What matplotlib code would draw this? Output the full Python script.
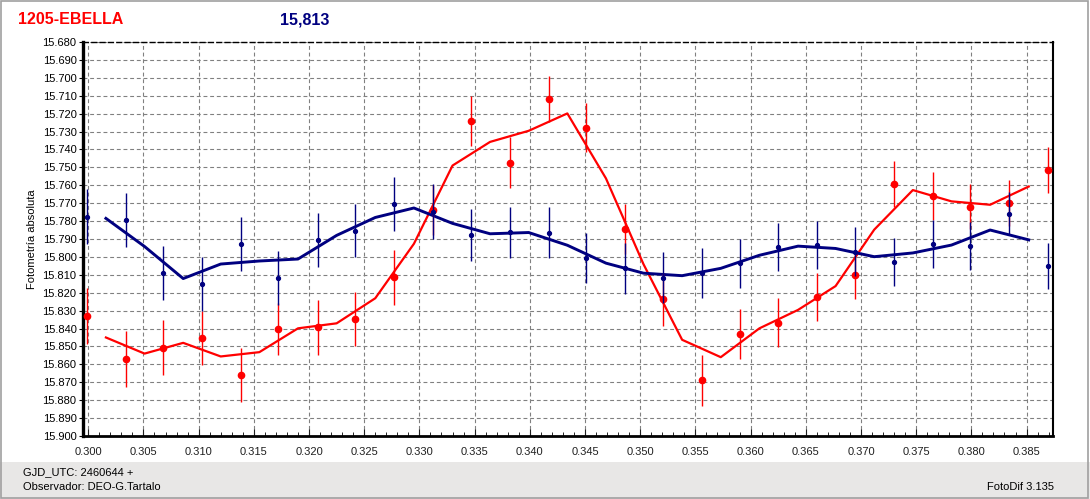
import matplotlib
matplotlib.use("Agg")
import matplotlib.pyplot as plt
from matplotlib.patches import Rectangle
from matplotlib.ticker import MultipleLocator, FormatStrFormatter

plt.rcParams["font.family"] = ["Liberation Sans", "DejaVu Sans"]

# phase (fraction of day after GJD 2460644)
phase = [0.2999, 0.3034, 0.3068, 0.3103, 0.3138, 0.3172, 0.3208, 0.3242,
         0.3277, 0.3312, 0.3347, 0.3382, 0.3417, 0.3451, 0.3486, 0.3521,
         0.3556, 0.3590, 0.3625, 0.3660, 0.3695, 0.3730, 0.3765, 0.3799,
         0.3834, 0.3869]

# variable star (red) magnitudes and errors
mag_var = [15.8329, 15.8571, 15.8508, 15.8452, 15.8660, 15.8403, 15.8394, 15.8347,
           15.8115, 15.7739, 15.7241, 15.7474, 15.7118, 15.7279, 15.7845, 15.8237,
           15.8689, 15.8430, 15.8368, 15.8223, 15.8102, 15.7593, 15.7660, 15.7720,
           15.7698, 15.7515]
err_var = [0.0158, 0.0155, 0.0153, 0.0152, 0.0152, 0.0143, 0.0153, 0.0152,
           0.0155, 0.0140, 0.0140, 0.0142, 0.0130, 0.0138, 0.0140, 0.0147,
           0.0143, 0.0140, 0.0136, 0.0135, 0.0135, 0.0128, 0.0132, 0.0125,
           0.0127, 0.0130]

# check star (navy) magnitudes and errors
mag_chk = [15.7776, 15.7794, 15.8089, 15.8152, 15.7928, 15.8117, 15.7906, 15.7854,
           15.7705, 15.7748, 15.7878, 15.7863, 15.7865, 15.8005, 15.8064, 15.8117,
           15.8092, 15.8036, 15.7945, 15.7934, 15.7971, 15.8027, 15.7928, 15.7940,
           15.7759, 15.8051]
err_chk = [0.0154, 0.0150, 0.0150, 0.0150, 0.0150, 0.0150, 0.0150, 0.0147,
           0.0150, 0.0153, 0.0147, 0.0143, 0.0141, 0.0141, 0.0144, 0.0143,
           0.0140, 0.0137, 0.0134, 0.0133, 0.0138, 0.0133, 0.0133, 0.0134,
           0.0121, 0.0130]

# smoothed curves as drawn in the chart
phase_smooth = [0.3016, 0.3051, 0.3086, 0.3120, 0.3155, 0.3190, 0.3225, 0.3260,
                0.3295, 0.3330, 0.3364, 0.3399, 0.3434, 0.3469, 0.3503, 0.3538,
                0.3573, 0.3608, 0.3643, 0.3677, 0.3712, 0.3747, 0.3782, 0.3817,
                0.3852]
smooth_var = [15.8450, 15.8540, 15.8480, 15.8556, 15.8532, 15.8399, 15.8371, 15.8231,
              15.7927, 15.7490, 15.7358, 15.7296, 15.7199, 15.7562, 15.8041, 15.8463,
              15.8560, 15.8399, 15.8296, 15.8163, 15.7848, 15.7627, 15.7690, 15.7709,
              15.7607]
smooth_chk = [15.7785, 15.7942, 15.8121, 15.8040, 15.8023, 15.8012, 15.7880, 15.7780,
              15.7727, 15.7813, 15.7871, 15.7864, 15.7935, 15.8035, 15.8091, 15.8105,
              15.8064, 15.7991, 15.7940, 15.7953, 15.7999, 15.7978, 15.7934, 15.7850,
              15.7905]

RED = "#ff0000"
NAVY = "#000080"

fig = plt.figure(figsize=(10.9, 4.99), dpi=100)
fig.patch.set_facecolor("white")

# grey status bar at the bottom and window frame
fig.add_artist(Rectangle((0, 0), 1, 37 / 499, transform=fig.transFigure,
                         facecolor="#e8e7e6", edgecolor="none", zorder=0))
fig.add_artist(Rectangle((0.001, 0.003), 0.997, 0.995, transform=fig.transFigure,
                         facecolor="none", edgecolor="#a0a0a0", lw=1.2, zorder=5))

ax = fig.add_axes([0.0759, 0.1263, 0.8902, 0.7896])

ax.plot(phase_smooth, smooth_var, color=RED, lw=1.6, zorder=3)
ax.plot(phase_smooth, smooth_chk, color=NAVY, lw=2.1, zorder=3)
ax.errorbar(phase, mag_var, yerr=err_var, fmt="o", color=RED, ms=4.5,
            elinewidth=1.0, capsize=0, zorder=4)
ax.errorbar(phase, mag_chk, yerr=err_chk, fmt="o", color=NAVY, ms=2.8,
            elinewidth=1.0, capsize=0, zorder=5)

ax.set_xlim(0.2995, 0.3874)
ax.set_ylim(15.900, 15.680)

ax.xaxis.set_major_locator(MultipleLocator(0.005))
ax.xaxis.set_minor_locator(MultipleLocator(0.001))
ax.xaxis.set_major_formatter(FormatStrFormatter("%.3f"))
ax.yaxis.set_major_locator(MultipleLocator(0.01))
ax.yaxis.set_major_formatter(FormatStrFormatter("%.3f"))

ax.grid(True, which="major", color="#808080", lw=0.8, linestyle=(0, (3.5, 2.5)))
ax.set_axisbelow(True)

ax.tick_params(axis="x", which="major", direction="in", length=5, width=0.8,
               labelsize=8, pad=8, colors="#202020")
ax.tick_params(axis="x", which="minor", direction="in", length=3, width=0.6)
ax.tick_params(axis="y", which="major", direction="out", length=3, width=0.8,
               labelsize=8, pad=1.5)

ax.spines["left"].set_linewidth(2.4)
ax.spines["bottom"].set_linewidth(2.0)
ax.spines["right"].set_linewidth(1.5)
ax.spines["top"].set_linewidth(1.0)
ax.spines["top"].set_linestyle((0, (3.5, 2.5)))

ax.set_ylabel("Fotometría absoluta", fontsize=8, labelpad=4)

fig.text(18 / 1090, 1 - 20 / 499, "1205-EBELLA", color=RED, fontsize=11.5,
         fontweight="bold", va="center", ha="left")
fig.text(280 / 1090, 1 - 20 / 499, "15,813", color=NAVY, fontsize=11.5,
         fontweight="bold", va="center", ha="left")

fig.text(23 / 1090, 1 - 472 / 499, "GJD_UTC: 2460644 +", fontsize=8,
         va="center", ha="left", color="#000000")
fig.text(23 / 1090, 1 - 487 / 499, "Observador: DEO-G.Tartalo", fontsize=8,
         va="center", ha="left", color="#000000")
fig.text(1054 / 1090, 1 - 487 / 499, "FotoDif 3.135", fontsize=8,
         va="center", ha="right", color="#000000")

fig.savefig("out.png", dpi=100)
